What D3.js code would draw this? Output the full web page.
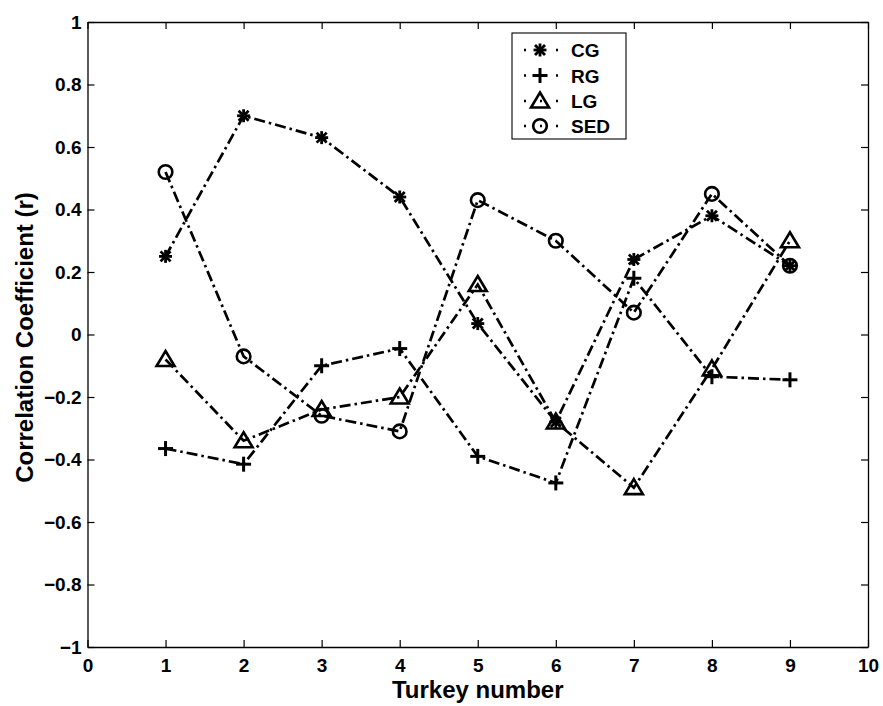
<!DOCTYPE html>
<html>
<head>
<meta charset="utf-8">
<script src="https://cdn.jsdelivr.net/npm/d3@7"></script>
<style>
  html, body { margin: 0; padding: 0; background: #fff; }
  svg { display: block; }
  text { font-family: "Liberation Sans", Arial, sans-serif; font-weight: bold; fill: #000; }
</style>
</head>
<body>
<svg id="chart" width="883" height="706"></svg>
<script>
// ---- data ----
const turkeys = [1, 2, 3, 4, 5, 6, 7, 8, 9];
const seriesNames = ["CG", "RG", "LG", "SED"];
const cgValues  = [0.25, 0.70, 0.63, 0.44, 0.035, -0.28, 0.24, 0.38, 0.22];
const rgValues  = [-0.365, -0.415, -0.10, -0.045, -0.39, -0.475, 0.18, -0.135, -0.145];
const lgValues  = [-0.08, -0.34, -0.24, -0.20, 0.16, -0.28, -0.49, -0.11, 0.30];
const sedValues = [0.52, -0.07, -0.26, -0.31, 0.43, 0.30, 0.07, 0.45, 0.22];
const xTicks = [0, 1, 2, 3, 4, 5, 6, 7, 8, 9, 10];
const yTicks = [-1, -0.8, -0.6, -0.4, -0.2, 0, 0.2, 0.4, 0.6, 0.8, 1];

const series = [
  { name: seriesNames[0], values: cgValues,  marker: "asterisk" },
  { name: seriesNames[1], values: rgValues,  marker: "plus" },
  { name: seriesNames[2], values: lgValues,  marker: "triangle" },
  { name: seriesNames[3], values: sedValues, marker: "circle" }
];

// ---- layout ----
const L = 87.5, R = 868, T = 22, B = 647;
const svg = d3.select("#chart");
const x = d3.scaleLinear().domain([0, 10]).range([L, R]);
const y = d3.scaleLinear().domain([-1, 1]).range([B, T]);

const fmt = v => (v < 0 ? "\u2212" : "") + String(Math.abs(v));

// axes: ticks inward on all 4 sides (MATLAB style)
const tickLen = 7;
const gAxes = svg.append("g");
const bottomAxis = d3.axisBottom(x).tickValues(xTicks).tickSize(-tickLen).tickSizeOuter(0).tickPadding(11.5).tickFormat(d3.format("d"));
const topAxis = d3.axisTop(x).tickValues(xTicks).tickSize(-tickLen).tickSizeOuter(0).tickFormat("");
const leftAxis = d3.axisLeft(y).tickValues(yTicks).tickSize(-tickLen).tickSizeOuter(0).tickPadding(6).tickFormat(fmt);
const rightAxis = d3.axisRight(y).tickValues(yTicks).tickSize(-tickLen).tickSizeOuter(0).tickFormat("");

const gb = gAxes.append("g").attr("transform", `translate(0,${B})`).call(bottomAxis);
const gt = gAxes.append("g").attr("transform", `translate(0,${T})`).call(topAxis);
const gl = gAxes.append("g").attr("transform", `translate(${L},0)`).call(leftAxis);
const gr = gAxes.append("g").attr("transform", `translate(${R},0)`).call(rightAxis);
[gb, gt, gl, gr].forEach(g => {
  g.selectAll(".domain").attr("stroke", "#000").attr("stroke-width", 1.3);
  g.selectAll(".tick line").attr("stroke", "#000").attr("stroke-width", 1.2);
  g.selectAll(".tick text").style("font-size", "19px").style("font-family", "'Liberation Sans', Arial, sans-serif").style("font-weight", "bold").attr("fill", "#000");
});

// axis titles
svg.append("text")
  .attr("x", (L + R) / 2).attr("y", 698)
  .attr("text-anchor", "middle")
  .style("font-size", "24px")
  .text("Turkey number");
svg.append("text")
  .attr("transform", `translate(33,${(T + B) / 2 + 3}) rotate(-90)`)
  .attr("text-anchor", "middle")
  .style("font-size", "24px")
  .text("Correlation Coefficient (r)");

// markers
function drawMarker(g, type, cx, cy) {
  if (type === "asterisk") {
    const s = 6.5, d = 5;
    [[-s, 0, s, 0], [0, -s, 0, s], [-d, -d, d, d], [-d, d, d, -d]].forEach(p => {
      g.append("line").attr("x1", cx + p[0]).attr("y1", cy + p[1]).attr("x2", cx + p[2]).attr("y2", cy + p[3])
        .attr("stroke", "#000").attr("stroke-width", 2.8);
    });
  } else if (type === "plus") {
    const s = 7.5;
    g.append("line").attr("x1", cx - s).attr("y1", cy).attr("x2", cx + s).attr("y2", cy).attr("stroke", "#000").attr("stroke-width", 3);
    g.append("line").attr("x1", cx).attr("y1", cy - s).attr("x2", cx).attr("y2", cy + s).attr("stroke", "#000").attr("stroke-width", 3);
  } else if (type === "triangle") {
    g.append("path").attr("d", `M${cx},${cy - 8.5} L${cx + 9},${cy + 6.5} L${cx - 9},${cy + 6.5} Z`)
      .attr("fill", "none").attr("stroke", "#000").attr("stroke-width", 2.6).attr("stroke-linejoin", "miter");
  } else if (type === "circle") {
    g.append("circle").attr("cx", cx).attr("cy", cy).attr("r", 6.8)
      .attr("fill", "none").attr("stroke", "#000").attr("stroke-width", 2.6);
  }
}

const line = d3.line().x((d, i) => x(turkeys[i])).y(d => y(d));
const gPlot = svg.append("g");
series.forEach(s => {
  gPlot.append("path").attr("d", line(s.values))
    .attr("fill", "none").attr("stroke", "#000").attr("stroke-width", 2.7)
    .attr("stroke-dasharray", "11,4,2.5,4");
  const gm = gPlot.append("g");
  s.values.forEach((v, i) => drawMarker(gm, s.marker, x(turkeys[i]), y(v)));
});

// legend
const lg = svg.append("g");
lg.append("rect").attr("x", 512).attr("y", 33).attr("width", 114).attr("height", 106)
  .attr("fill", "#fff").attr("stroke", "#000").attr("stroke-width", 1.1);
const rowY = [50, 75.5, 101, 126];
series.forEach((s, i) => {
  const yy = rowY[i];
  lg.append("line").attr("x1", 524).attr("y1", yy).attr("x2", 558).attr("y2", yy)
    .attr("stroke", "#000").attr("stroke-width", 2.5).attr("stroke-dasharray", "2,14,2,14,2");
  drawMarker(lg, s.marker, 540, yy);
  lg.append("text").attr("x", 571).attr("y", yy + 7).style("font-size", "19px").text(s.name);
});
</script>
</body>
</html>
